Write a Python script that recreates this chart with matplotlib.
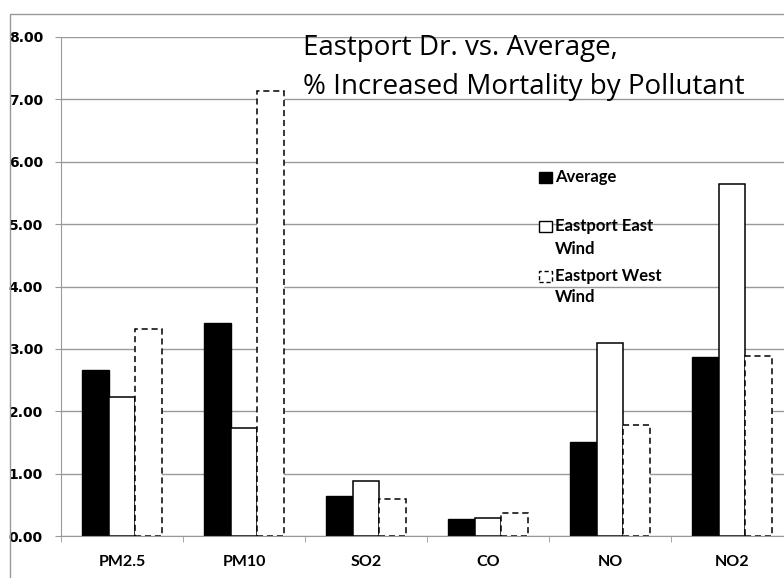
import numpy as np
import matplotlib
matplotlib.use("Agg")
import matplotlib.pyplot as plt
from matplotlib.patches import Rectangle

# data
pollutants = ["PM2.5", "PM10", "SO2", "CO", "NO", "NO2"]
average = [2.66, 3.42, 0.64, 0.27, 1.51, 2.87]
east_wind = [2.23, 1.73, 0.88, 0.29, 3.10, 5.65]
west_wind = [3.32, 7.13, 0.59, 0.37, 1.78, 2.89]
y_ticks = [0, 1, 2, 3, 4, 5, 6, 7, 8]

W, H = 784, 578
fig = plt.figure(figsize=(W / 100, H / 100), dpi=100)
fig.patch.set_facecolor("white")

# axes placed in pixels, running past the right edge like the original
left, right, top, bottom = 61, 793, 37, 536
ax = fig.add_axes([left / W, (H - bottom) / H, (right - left) / W, (bottom - top) / H])

x = np.arange(len(pollutants))
bw = 0.22
ax.bar(x - bw, average, bw, color="black", edgecolor="black", linewidth=1)
ax.bar(x, east_wind, bw, color="white", edgecolor="black", linewidth=1.1)
ax.bar(x + bw, west_wind, bw, color="white", edgecolor="black", linewidth=1.1,
       linestyle=(0, (4, 2.5)))

ax.set_xlim(-0.5, len(pollutants) - 0.5)
ax.set_ylim(0, 8)
ax.set_yticks(y_ticks)
ax.set_yticklabels([f"{v:.2f}" for v in y_ticks], fontsize=10, fontweight="bold",
                   family="DejaVu Sans")
ax.yaxis.grid(True, color="#999999", linewidth=1)
ax.set_axisbelow(True)

ax.set_xticks(x)
ax.set_xticklabels(pollutants, fontsize=11.5, fontweight="bold", family="Lato")
ax.set_xticks(np.arange(-0.5, len(pollutants)), minor=True)
ax.tick_params(axis="x", which="major", length=0, pad=14)
ax.tick_params(axis="x", which="minor", length=4, color="#999999", direction="out")
ax.tick_params(axis="y", length=4, color="#999999", pad=9)

for s in ["top", "right"]:
    ax.spines[s].set_visible(False)
ax.spines["left"].set_color("#999999")
ax.spines["bottom"].set_color("#999999")

# outer chart border
fig.patches.append(Rectangle((10 / W, -0.1), 1.2, (H - 14) / H + 0.1, transform=fig.transFigure,
                             fill=False, edgecolor="#999999", linewidth=1))

# title
fig.text(303 / W, 1 - 48 / H, "Eastport Dr. vs. Average,", fontsize=20, family="Open Sans",
         va="center", ha="left")
fig.text(303 / W, 1 - 87 / H, "% Increased Mortality by Pollutant", fontsize=20, family="Open Sans",
         va="center", ha="left")

# legend drawn by hand
def legend_box(y_px, fill, ls):
    fig.patches.append(Rectangle((539 / W, 1 - (y_px + 6) / H), 13 / W, 11 / H,
                                 transform=fig.transFigure, facecolor=fill,
                                 edgecolor="black", linewidth=1, linestyle=ls))

legend_box(177, "black", "-")
legend_box(226, "white", "-")
legend_box(276, "white", (0, (3, 2)))
lkw = dict(fontsize=12, fontweight="bold", family="Lato", va="center", ha="left")
fig.text(555 / W, 1 - 177 / H, "Average", **lkw)
fig.text(555 / W, 1 - 226 / H, "Eastport East", **lkw)
fig.text(555 / W, 1 - 249 / H, "Wind", **lkw)
fig.text(555 / W, 1 - 276 / H, "Eastport West", **lkw)
fig.text(555 / W, 1 - 297 / H, "Wind", **lkw)

fig.savefig("out.png", dpi=100)
